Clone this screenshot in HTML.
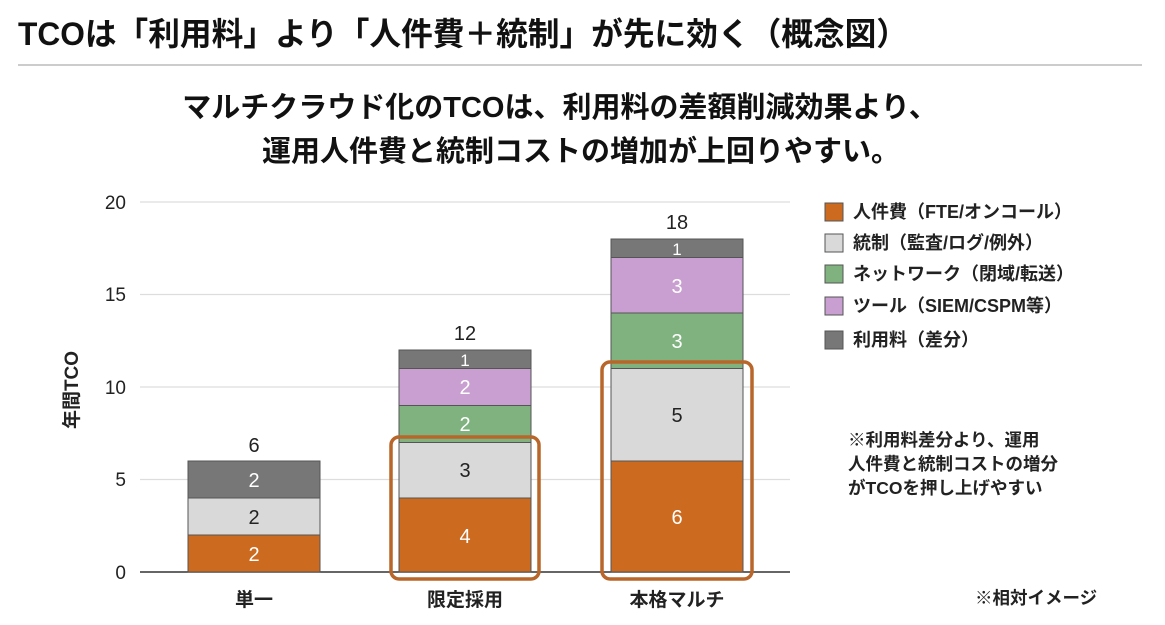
<!DOCTYPE html>
<html><head><meta charset="utf-8"><style>
body{margin:0;background:#fff;}
svg text{font-family:"Liberation Sans","Noto Sans CJK JP",sans-serif;}
</style></head><body>
<svg width="1165" height="620" viewBox="0 0 1165 620" xmlns="http://www.w3.org/2000/svg">
<rect width="1165" height="620" fill="#fff"/>
<text x="18" y="45" font-size="32" font-weight="700" fill="#111" textLength="890" lengthAdjust="spacingAndGlyphs">TCOは「利用料」より「人件費＋統制」が先に効く（概念図）</text>
<line x1="18" y1="65" x2="1142" y2="65" stroke="#bbb" stroke-width="1.5"/>
<text x="560" y="117" font-size="29" font-weight="700" text-anchor="middle" fill="#111">マルチクラウド化のTCOは、利用料の差額削減効果より、</text>
<text x="581" y="161" font-size="29" font-weight="700" text-anchor="middle" fill="#111">運用人件費と統制コストの増加が上回りやすい。</text>
<g stroke="#ddd" stroke-width="1.2">
<line x1="140" y1="202" x2="790" y2="202"/>
<line x1="140" y1="294.5" x2="790" y2="294.5"/>
<line x1="140" y1="387" x2="790" y2="387"/>
<line x1="140" y1="479.5" x2="790" y2="479.5"/>
</g>
<line x1="140" y1="572" x2="790" y2="572" stroke="#333" stroke-width="1.5"/>
<g font-size="19" fill="#222" text-anchor="end">
<text x="126" y="209">20</text><text x="126" y="301">15</text><text x="126" y="394">10</text><text x="126" y="486">5</text><text x="126" y="579">0</text>
</g>
<text transform="translate(78,390) rotate(-90)" font-size="19" font-weight="700" text-anchor="middle" fill="#222">年間TCO</text>
<g stroke="#555" stroke-width="1" font-size="20">
<rect x="188" y="535" width="132" height="37" fill="#cc6a1f"/>
<rect x="188" y="498" width="132" height="37" fill="#d9d9d9"/>
<rect x="188" y="461" width="132" height="37" fill="#777"/>
<rect x="399" y="498" width="132" height="74" fill="#cc6a1f"/>
<rect x="399" y="442.5" width="132" height="55.5" fill="#d9d9d9"/>
<rect x="399" y="405.5" width="132" height="37" fill="#7fb27f"/>
<rect x="399" y="368.5" width="132" height="37" fill="#c89fd0"/>
<rect x="399" y="350" width="132" height="18.5" fill="#777"/>
<rect x="611" y="461" width="132" height="111" fill="#cc6a1f"/>
<rect x="611" y="368.5" width="132" height="92.5" fill="#d9d9d9"/>
<rect x="611" y="313" width="132" height="55.5" fill="#7fb27f"/>
<rect x="611" y="257.5" width="132" height="55.5" fill="#c89fd0"/>
<rect x="611" y="239" width="132" height="18.5" fill="#777"/>
</g>
<g font-size="20" text-anchor="middle">
<text x="254" y="561" fill="#fff">2</text><text x="254" y="524" fill="#222">2</text><text x="254" y="487" fill="#fff">2</text>
<text x="254" y="452" fill="#222">6</text>
<text x="465" y="543" fill="#fff">4</text><text x="465" y="477" fill="#222">3</text><text x="465" y="431" fill="#fff">2</text><text x="465" y="394" fill="#fff">2</text><text x="465" y="366" fill="#fff" font-size="17">1</text>
<text x="465" y="340" fill="#222">12</text>
<text x="677" y="524" fill="#fff">6</text><text x="677" y="422" fill="#222">5</text><text x="677" y="348" fill="#fff">3</text><text x="677" y="293" fill="#fff">3</text><text x="677" y="255" fill="#fff" font-size="17">1</text>
<text x="677" y="229" fill="#222">18</text>
</g>
<rect x="391" y="437" width="148" height="142" rx="8" fill="none" stroke="#b8662a" stroke-width="3.5"/>
<rect x="602" y="362" width="150" height="217" rx="8" fill="none" stroke="#b8662a" stroke-width="3.5"/>
<g font-size="19" font-weight="700" text-anchor="middle" fill="#222">
<text x="254" y="606">単一</text><text x="465" y="606">限定採用</text><text x="677" y="606">本格マルチ</text>
</g>
<g stroke="#555" stroke-width="1">
<rect x="825" y="203" width="18" height="18" fill="#cc6a1f"/>
<rect x="825" y="234" width="18" height="18" fill="#d9d9d9"/>
<rect x="825" y="265" width="18" height="18" fill="#7fb27f"/>
<rect x="825" y="297" width="18" height="18" fill="#c89fd0"/>
<rect x="825" y="331" width="18" height="18" fill="#777"/>
</g>
<g font-size="18" font-weight="700" fill="#222">
<text x="853" y="218">人件費（FTE/オンコール）</text>
<text x="853" y="249">統制（監査/ログ/例外）</text>
<text x="853" y="280">ネットワーク（閉域/転送）</text>
<text x="853" y="312">ツール（SIEM/CSPM等）</text>
<text x="853" y="346">利用料（差分）</text>
</g>
<g font-size="17.5" font-weight="700" fill="#222">
<text x="848" y="446">※利用料差分より、運用</text>
<text x="848" y="470">人件費と統制コストの増分</text>
<text x="848" y="494">がTCOを押し上げやすい</text>
<text x="975" y="604">※相対イメージ</text>
</g>
</svg>
</body></html>
